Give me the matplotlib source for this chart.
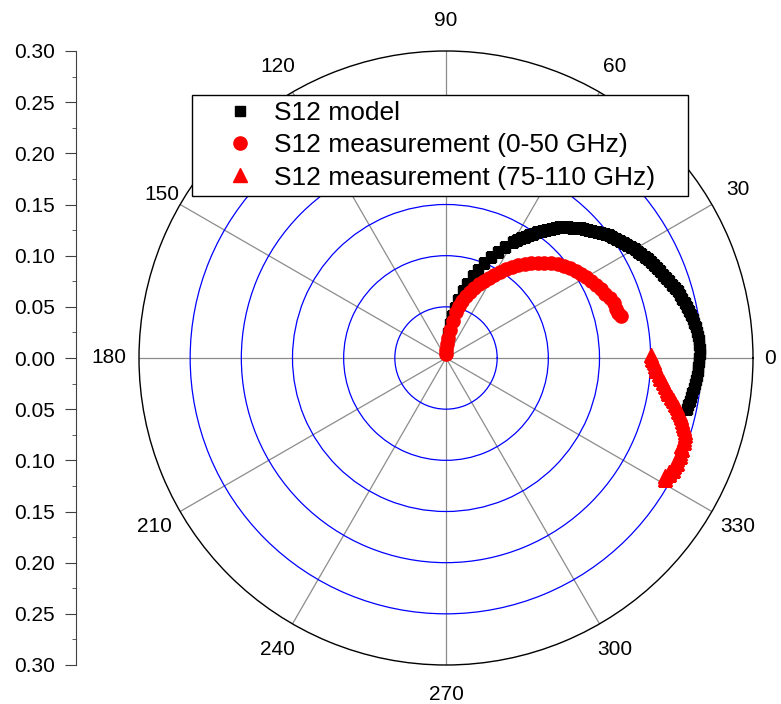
import numpy as np
import matplotlib.pyplot as plt
from matplotlib.ticker import FixedLocator, MultipleLocator, FuncFormatter

plt.rcParams['font.family'] = ['Liberation Sans', 'DejaVu Sans']

# S12 model (black squares): phase in degrees, magnitude
model_deg = [88, 86, 84, 82, 80, 78, 76, 74, 72, 70, 68, 66, 64, 62,
             60, 59, 58, 57, 56, 55, 54, 53, 52, 51,
             50, 49, 48, 47, 46, 45, 44, 43, 42, 41,
             40, 39, 38, 37, 36, 35, 34, 33, 32, 31,
             30, 29, 28, 27, 26, 25, 24, 23, 22, 21,
             20, 19, 18, 17, 16, 15, 14, 13, 12, 11,
             10, 9, 8, 7, 6, 5, 4, 3, 2, 1,
             0, -1, -2, -3, -4, -5, -6, -7, -8, -9,
             -10, -11, -12]
model_mag = [0.015, 0.024, 0.033, 0.041, 0.050, 0.058, 0.067, 0.075, 0.084, 0.092,
             0.100, 0.108, 0.115, 0.123,
             0.131, 0.1345, 0.138, 0.1415, 0.145, 0.1485, 0.152, 0.1555, 0.159, 0.1625,
             0.166, 0.169, 0.172, 0.1745, 0.177, 0.180, 0.183, 0.185, 0.187, 0.1895,
             0.192, 0.1945, 0.197, 0.199, 0.201, 0.203, 0.205, 0.207, 0.209, 0.211,
             0.213, 0.2145, 0.216, 0.218, 0.220, 0.2215, 0.223, 0.2245, 0.226, 0.2275,
             0.229, 0.2305, 0.232, 0.234, 0.236, 0.237, 0.238, 0.2395, 0.241, 0.242,
             0.243, 0.244, 0.245, 0.2458, 0.2465, 0.247, 0.2475, 0.2478, 0.248, 0.2478,
             0.2475, 0.2472, 0.2468, 0.2463, 0.2458, 0.2452, 0.2446, 0.2439, 0.2432, 0.2425,
             0.2418, 0.2411, 0.2405]

# S12 measurement 0-50 GHz (red circles)
lo_deg = [90, 88, 86, 84, 82, 80, 78, 76, 74, 72, 70, 68, 66, 64, 62, 60, 58, 56,
          54, 52, 50, 48, 46, 44, 42, 40, 38, 36, 34, 32, 30, 28, 26, 24, 22, 20,
          18, 16, 14.5, 13.6]
lo_mag = [0.004, 0.008, 0.014, 0.020, 0.028, 0.037, 0.046, 0.052, 0.058, 0.064,
          0.069, 0.074, 0.079, 0.084, 0.089, 0.094, 0.0995, 0.1045, 0.1097, 0.115,
          0.1197, 0.1243, 0.129, 0.1338, 0.1385, 0.1425, 0.1465, 0.1502, 0.1528,
          0.1555, 0.1583, 0.161, 0.1635, 0.1657, 0.168, 0.1705, 0.1727, 0.1732,
          0.174, 0.1755]

# S12 measurement 75-110 GHz (red triangles)
hi_deg = [0.8, -0.3, -1.1, -2.2, -3.3, -4.2, -5.3, -6.3, -7.3, -8.2, -9.0, -9.8,
          -10.5, -11.3, -12.0, -12.8, -13.5, -14.2, -15.0, -15.8, -16.5, -17.2,
          -17.9, -18.7, -19.5, -20.4, -21.2, -22.0, -22.8, -23.6, -24.5, -25.4,
          -26.2, -27.0, -27.6, -28.3, -29.0]
hi_mag = [0.200, 0.2015, 0.203, 0.2045, 0.206, 0.2085, 0.2105, 0.213, 0.2155, 0.218,
          0.220, 0.223, 0.2255, 0.228, 0.2305, 0.2325, 0.235, 0.2365, 0.2385, 0.241,
          0.2425, 0.2445, 0.2452, 0.246, 0.2465, 0.2455, 0.2472, 0.247, 0.2478,
          0.246, 0.2479, 0.2465, 0.2468, 0.245, 0.2456, 0.243, 0.2444]

angle_ticks = list(range(0, 360, 30))
r_rings = [0.05, 0.10, 0.15, 0.20, 0.25]
r_max = 0.30

W, H = 781, 704
fig = plt.figure(figsize=(W / 100, H / 100), dpi=100)

cx, cy, rad = 446, 358, 307
ax = fig.add_axes([(cx - rad) / W, (H - cy - rad) / H, 2 * rad / W, 2 * rad / H],
                  projection='polar')
ax.set_ylim(0, r_max)
ax.set_yticks(r_rings)
ax.set_yticklabels([])
ax.yaxis.grid(True, color='#0000ff', lw=0.9)
ax.set_xticks(np.deg2rad(angle_ticks))
ax.set_xticklabels([])
ax.xaxis.grid(True, color='#8c8c8c', lw=0.9)
ax.xaxis.set_minor_locator(FixedLocator(np.deg2rad(np.arange(15, 360, 30))))
ax.tick_params(axis='x', which='major', direction='in', length=7, color='black')
ax.tick_params(axis='x', which='minor', direction='in', length=3.5, color='black')
ax.spines['polar'].set_color('black')
ax.spines['polar'].set_linewidth(1.0)

# angle labels, distance from centre in pixels
for a in angle_ticks:
    d = {0: 324, 150: 328}.get(a, 337)
    ax.text(np.deg2rad(a), d / rad * r_max, str(a), ha='center', va='center',
            fontsize=15, clip_on=False)

h1, = ax.plot(np.deg2rad(model_deg), model_mag, 's', color='black', ms=7,
              ls='none', label='S12 model')
h2, = ax.plot(np.deg2rad(lo_deg), lo_mag, 'o', color='red', ms=9.5,
              ls='none', label='S12 measurement (0-50 GHz)')
h3, = ax.plot(np.deg2rad(hi_deg), hi_mag, '^', color='red', ms=10,
              ls='none', label='S12 measurement (75-110 GHz)')

# left magnitude scale
lax = fig.add_axes([76 / W, (H - cy - rad) / H, 0.0001, 2 * rad / H])
lax.set_ylim(-r_max, r_max)
for s in ['top', 'right', 'bottom']:
    lax.spines[s].set_visible(False)
lax.spines['left'].set_color('#404040')
lax.set_xticks([])
lax.yaxis.set_major_locator(MultipleLocator(0.05))
lax.yaxis.set_minor_locator(MultipleLocator(0.025))
lax.yaxis.set_major_formatter(FuncFormatter(lambda v, p: f'{abs(v):.2f}'))
lax.tick_params(axis='y', which='major', length=8, direction='out', color='#404040',
                labelsize=15, pad=7)
lax.tick_params(axis='y', which='minor', length=3, direction='out', color='#404040')
lax.patch.set_visible(False)

leg = fig.legend(handles=[h1, h2, h3], loc='upper left', mode='expand',
                 bbox_to_anchor=(192 / W, 1 - 197 / H, 496 / W, 102 / H),
                 borderaxespad=0, fontsize=19, frameon=True, fancybox=False,
                 framealpha=1, edgecolor='black', handlelength=3.2,
                 handletextpad=-0.3, borderpad=0.22, labelspacing=0.32,
                 numpoints=1)
leg.get_frame().set_linewidth(1.0)

fig.savefig('out.png', dpi=100)
